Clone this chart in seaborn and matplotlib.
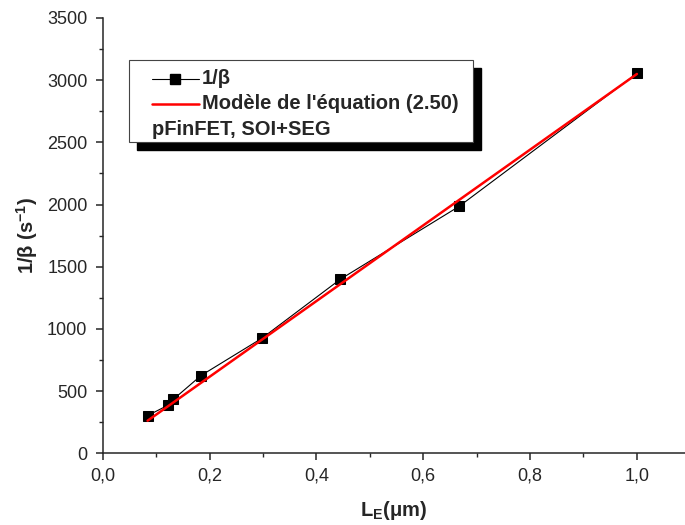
import matplotlib
matplotlib.use("Agg")
import matplotlib.pyplot as plt
import seaborn as sns
import pandas as pd
from matplotlib.patches import Rectangle
from matplotlib.lines import Line2D
from matplotlib.ticker import MultipleLocator, FuncFormatter

# ---- data ----
LE = [0.084, 0.122, 0.132, 0.184, 0.298, 0.445, 0.667, 1.0]
inv_beta = [303, 386, 433, 625, 925, 1400, 1985, 3055]
model_LE = [0.084, 1.0]
model_inv_beta = [262, 3050]
label_data = "1/β"
label_model = "Modèle de l'équation (2.50)"
label_note = "pFinFET, SOI+SEG"

sns.set_style("ticks")
plt.rcParams['font.family'] = ['Liberation Sans', 'DejaVu Sans']
plt.rcParams['mathtext.fontset'] = 'custom'
plt.rcParams['mathtext.rm'] = 'Liberation Sans:bold'
plt.rcParams['mathtext.bf'] = 'Liberation Sans:bold'
plt.rcParams['mathtext.it'] = 'Liberation Sans:bold'

W, H = 685, 525
fig = plt.figure(figsize=(W/100, H/100), dpi=100)
ax = fig.add_axes([102.7/W, 1-453.3/H, (W-102.7)/W, (453.3-18)/H])

df = pd.DataFrame({"LE": LE, "ib": inv_beta})
dm = pd.DataFrame({"LE": model_LE, "ib": model_inv_beta})
sns.lineplot(data=df, x="LE", y="ib", ax=ax, color="black", lw=0.8,
             marker="s", markersize=7, markeredgecolor="black", sort=False, zorder=3)
sns.lineplot(data=dm, x="LE", y="ib", ax=ax, color="#ff0000", lw=1.8, sort=False, zorder=4)

ax.set_xlim(0, 1.09)
ax.set_ylim(0, 3500)
ax.xaxis.set_major_locator(MultipleLocator(0.2))
ax.xaxis.set_minor_locator(MultipleLocator(0.1))
ax.yaxis.set_major_locator(MultipleLocator(500))
ax.yaxis.set_minor_locator(MultipleLocator(250))
ax.xaxis.set_major_formatter(FuncFormatter(lambda v, p: f"{v:.1f}".replace(".", ",")))
ax.yaxis.set_major_formatter(FuncFormatter(lambda v, p: f"{int(round(v))}"))
sns.despine(ax=ax)
for s in ["left", "bottom"]:
    ax.spines[s].set_linewidth(1.1)
ax.tick_params(which="major", direction="out", length=5, width=1.1, labelsize=13)
ax.tick_params(axis="y", which="major", pad=6)
ax.tick_params(axis="x", which="major", pad=5)
ax.tick_params(which="minor", direction="out", length=3, width=1.0)
ax.set_xlabel("L$_\\mathregular{E}$(μm)", fontsize=14.5, fontweight="bold", labelpad=11)
ax.set_ylabel("1/β (s$^\\mathregular{-1}$)", fontsize=14.5, fontweight="bold", labelpad=5)

# ---- legend box drawn manually ----
def fx(px): return px / W
def fy(py): return 1 - py / H
tf = fig.transFigure
x0, y0, x1, y1 = 129.3, 60, 472.7, 141.7
off = 8
fig.patches.append(Rectangle((fx(x0+off), fy(y1+off)), fx(x1)-fx(x0), fy(y0)-fy(y1),
                             transform=tf, facecolor="black", edgecolor="black", zorder=5))
fig.patches.append(Rectangle((fx(x0), fy(y1)), fx(x1)-fx(x0), fy(y0)-fy(y1),
                             transform=tf, facecolor="white", edgecolor="#444444", lw=0.8, zorder=6))
r1, r2, r3 = 78.5, 103.5, 129.5
fig.lines.append(Line2D([fx(151.7), fx(199)], [fy(r1), fy(r1)], transform=tf, color="black",
                        lw=0.8, zorder=7))
fig.lines.append(Line2D([fx(175.3)], [fy(r1)], transform=tf, color="black", marker="s",
                        markersize=7, zorder=7))
fig.lines.append(Line2D([fx(151.7), fx(199)], [fy(r2), fy(r2)], transform=tf, color="#ff0000",
                        lw=1.8, zorder=7))
fs = 14.5
fig.text(fx(202), fy(r1), label_data, fontsize=fs, fontweight="bold", va="center", ha="left", zorder=8)
fig.text(fx(202), fy(r2), label_model, fontsize=fs, fontweight="bold", va="center", ha="left", zorder=8)
fig.text(fx(151.7), fy(r3), label_note, fontsize=fs, fontweight="bold", va="center", ha="left", zorder=8)

fig.savefig("out.png", dpi=100)
